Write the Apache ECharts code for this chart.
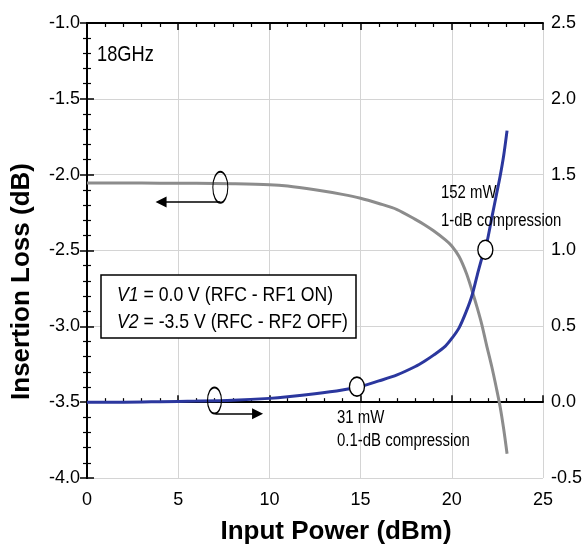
<!DOCTYPE html>
<html>
<head>
<meta charset="utf-8">
<script src="https://cdn.jsdelivr.net/npm/echarts@6/dist/echarts.min.js"></script>
<style>
html,body{margin:0;padding:0;background:#fff;}
#chart{width:585px;height:550px;}
</style>
</head>
<body>
<div id="chart"></div>
<script>
// ---- data ----
const power = [0, 2, 4, 6, 8, 10, 11, 12.5, 14, 15, 16, 17, 18, 18.5, 19, 19.65, 20, 20.4, 20.8, 21.1, 21.4, 21.65, 21.9, 22.2, 22.45, 22.65, 22.85, 23.03];
const insertionLoss = [-2.055, -2.055, -2.056, -2.057, -2.060, -2.066, -2.075, -2.10, -2.13, -2.155, -2.19, -2.23, -2.295, -2.33, -2.37, -2.43, -2.47, -2.54, -2.65, -2.76, -2.88, -2.99, -3.12, -3.27, -3.41, -3.53, -3.68, -3.84];
const compression = [0.0, 0.0, 0.003, 0.007, 0.013, 0.025, 0.035, 0.055, 0.08, 0.103, 0.14, 0.18, 0.235, 0.27, 0.31, 0.37, 0.42, 0.49, 0.60, 0.70, 0.84, 0.95, 1.04, 1.22, 1.37, 1.49, 1.63, 1.79];
const xTicks = [0, 25, 5];          // min, max, interval
const leftTicks = [-4.0, -1.0, 0.5];
const rightTicks = [-0.5, 2.5, 0.5];
// annotation anchor points (data coordinates)
const lossMarker = [7.31, -2.083];
const lossArrow = [[7.31, -2.18], [4.06, -2.18]];
const compMarker = [6.99, 0.011];
const compArrow = [[7.04, -0.077], [9.35, -0.077]];
const compressionPoints = [[14.8, 0.102], [21.84, 1.005]];
const labelTexts = ['18GHz', '152 mW', '1-dB compression', '31 mW', '0.1-dB compression'];
const boxLines = [['V1', ' = 0.0 V (RFC - RF1 ON)'], ['V2', ' = -3.5 V (RFC - RF2 OFF)']];

const SANS = "'Liberation Sans', Arial, Helvetica, sans-serif";
const NARROW_SCALE = 0.83;
const ELLIPSE = 'path://M1,0 C1,0.552 0.552,1 0,1 C-0.552,1 -1,0.552 -1,0 C-1,-0.552 -0.552,-1 0,-1 C0.552,-1 1,-0.552 1,0 Z';

const lossData = power.map((p, i) => [p, insertionLoss[i]]);
const compData = power.map((p, i) => [p, compression[i]]);

const chart = echarts.init(document.getElementById('chart'), null, {renderer: 'canvas'});

const axisCommon = {
  axisLine: {show: true, lineStyle: {color: '#000', width: 2}},
  axisTick: {show: true, inside: true, length: 7, lineStyle: {color: '#000', width: 1.5}},
  minorTick: {show: true, splitNumber: 5, length: 4, lineStyle: {color: '#000', width: 1.2}},
};

function narrowText(x, y, text, size) {
  return {type: 'text', x: x, y: y, z: 10, scaleX: NARROW_SCALE, scaleY: 1,
    style: {text: text, fontFamily: SANS, fontSize: size, fill: '#000', verticalAlign: 'middle'}};
}

const option = {
  animation: false,
  backgroundColor: '#fff',
  grid: {left: 87, right: 37, top: 23, bottom: 72, containLabel: false},
  xAxis: [{
    type: 'value', min: xTicks[0], max: xTicks[1], interval: xTicks[2],
    position: 'bottom',
    name: 'Input Power (dBm)', nameLocation: 'middle', nameGap: 41,
    nameTextStyle: {fontFamily: SANS, fontWeight: 'bold', fontSize: 26, color: '#000', padding: [0, 0, 0, 42]},
    ...axisCommon,
    axisLabel: {color: '#000', fontFamily: SANS, fontSize: 18, margin: 13},
    splitLine: {show: true, lineStyle: {color: '#d4d4d4', width: 1}},
  }, {
    type: 'value', min: xTicks[0], max: xTicks[1], interval: xTicks[2],
    position: 'top',
    ...axisCommon,
    axisLabel: {show: false},
    splitLine: {show: false},
  }],
  yAxis: [{
    type: 'value', min: leftTicks[0], max: leftTicks[1], interval: leftTicks[2],
    position: 'left',
    name: 'Insertion Loss (dB)', nameLocation: 'middle', nameGap: 52,
    nameTextStyle: {fontFamily: SANS, fontWeight: 'bold', fontSize: 26, color: '#000', padding: [0, 62, 0, 0]},
    ...axisCommon,
    axisLabel: {color: '#000', fontFamily: SANS, fontSize: 18, margin: 7, formatter: v => v.toFixed(1)},
    splitLine: {show: true, lineStyle: {color: '#d4d4d4', width: 1}},
  }, {
    type: 'value', min: rightTicks[0], max: rightTicks[1], interval: rightTicks[2],
    position: 'right',
    ...axisCommon,
    axisLabel: {color: '#000', fontFamily: SANS, fontSize: 18, margin: 8, formatter: v => v.toFixed(1)},
    splitLine: {show: false},
  }],
  series: [{
    name: 'Insertion Loss',
    type: 'line', xAxisIndex: 0, yAxisIndex: 0,
    data: lossData, smooth: 0.3, showSymbol: false, symbol: 'none',
    lineStyle: {color: '#8c8c8c', width: 3},
    z: 3,
    markPoint: {
      silent: true,
      data: [{coord: lossMarker, symbol: ELLIPSE, symbolSize: [15, 31],
        itemStyle: {color: 'rgba(0,0,0,0)', borderColor: '#000', borderWidth: 1.5}, label: {show: false}}]
    },
    markLine: {
      silent: true, symbol: ['none', 'triangle'], symbolSize: 11,
      lineStyle: {color: '#000', type: 'solid', width: 1.5},
      label: {show: false},
      data: [[{coord: lossArrow[0]}, {coord: lossArrow[1]}]]
    }
  }, {
    name: 'Compression',
    type: 'line', xAxisIndex: 0, yAxisIndex: 1,
    data: compData, smooth: 0.3, showSymbol: false, symbol: 'none',
    lineStyle: {color: '#2b379e', width: 3},
    z: 4,
    markPoint: {
      silent: true,
      data: [
        {coord: compMarker, symbol: ELLIPSE, symbolSize: [14, 26],
          itemStyle: {color: 'rgba(0,0,0,0)', borderColor: '#000', borderWidth: 1.5}, label: {show: false}},
        ...compressionPoints.map(c => ({coord: c, symbol: ELLIPSE, symbolSize: [15, 19],
          itemStyle: {color: '#fff', borderColor: '#000', borderWidth: 1.5}, label: {show: false}}))
      ]
    },
    markLine: {
      silent: true, symbol: ['none', 'triangle'], symbolSize: 11,
      lineStyle: {color: '#000', type: 'solid', width: 1.5},
      label: {show: false},
      data: [[{coord: compArrow[0]}, {coord: compArrow[1]}]]
    }
  }],
  graphic: [
    narrowText(97, 55, labelTexts[0], 22),
    narrowText(441, 193.5, labelTexts[1], 18),
    narrowText(441, 221.5, labelTexts[2], 18),
    narrowText(337, 418.5, labelTexts[3], 18),
    narrowText(337, 441.5, labelTexts[4], 18),
    {type: 'rect', z: 10, shape: {x: 101, y: 275, width: 255, height: 63},
      style: {fill: '#fff', stroke: '#000', lineWidth: 1.5}},
    ...boxLines.map((ln, i) => ({
      type: 'text', x: 117, y: 295 + i * 27.5, z: 11, scaleX: 0.84, scaleY: 1,
      style: {
        text: '{i|' + ln[0] + '}{n|' + ln[1] + '}',
        verticalAlign: 'middle',
        fontFamily: SANS, fontSize: 21, fill: '#000',
        rich: {
          i: {fontFamily: SANS, fontSize: 21, fontStyle: 'italic', fill: '#000'},
          n: {fontFamily: SANS, fontSize: 21, fill: '#000'}
        }
      }
    }))
  ]
};
chart.setOption(option);
</script>
</body>
</html>
